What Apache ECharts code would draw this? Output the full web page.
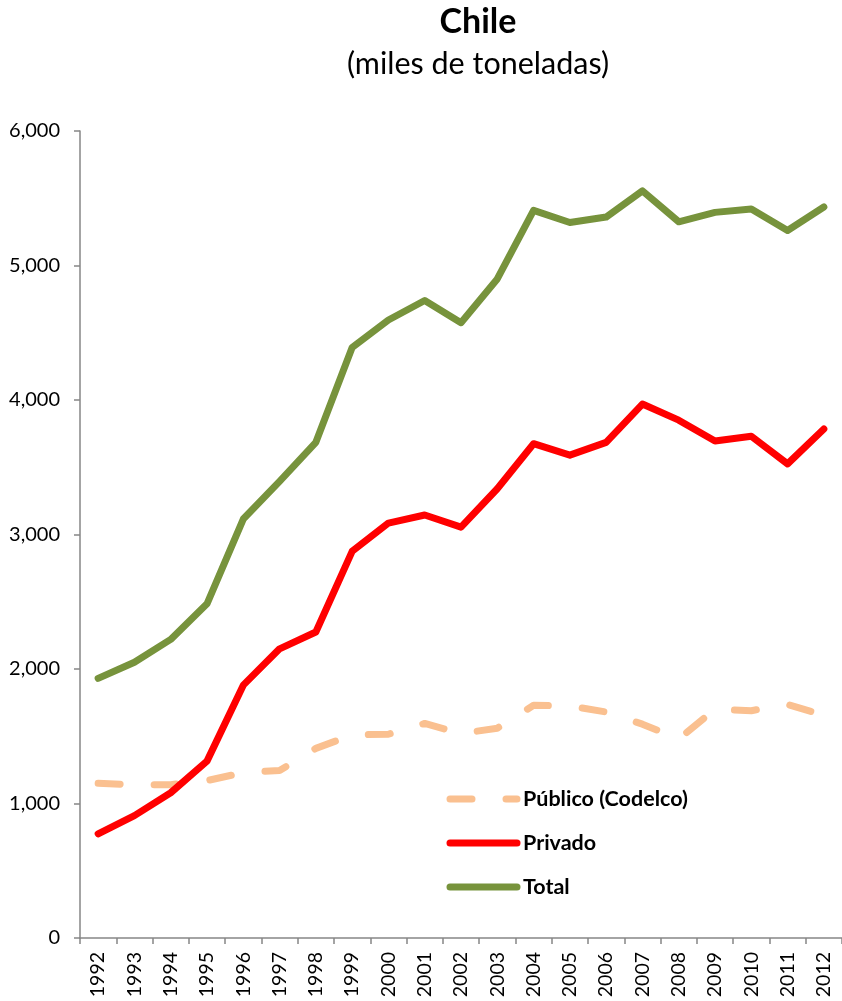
<!DOCTYPE html>
<html>
<head>
<meta charset="utf-8">
<script src="https://cdn.jsdelivr.net/npm/echarts@6/dist/echarts.min.js"></script>
<style>html,body{margin:0;padding:0;background:#fff}#c{width:842px;height:1001px}</style>
</head>
<body>
<div id="c"></div>
<script>
var years = ['1992','1993','1994','1995','1996','1997','1998','1999','2000','2001','2002','2003','2004','2005','2006','2007','2008','2009','2010','2011','2012'];
var publico = [1150,1140,1140,1170,1230,1245,1410,1510,1515,1595,1520,1560,1730,1725,1680,1590,1480,1700,1690,1737,1655];
var privado = [775,910,1080,1315,1880,2150,2275,2875,3085,3145,3055,3340,3675,3590,3685,3970,3850,3695,3730,3525,3785];
var total = [1930,2050,2220,2485,3115,3395,3685,4390,4595,4740,4575,4900,5410,5320,5360,5555,5325,5395,5420,5260,5435];
var yTicks = [0,1000,2000,3000,4000,5000,6000];

var font = 'Lato';
var chart = echarts.init(document.getElementById('c'));
chart.setOption({
  animation: false,
  textStyle: {fontFamily: font},
  title: [
    {text: 'Chile', left: 473, top: 0, textAlign: 'center',
     textStyle: {fontFamily: font, fontSize: 34, fontWeight: 'bold', color: '#000'}},
    {text: '(miles de toneladas)', left: 473, top: 44, textAlign: 'center',
     textStyle: {fontFamily: font, fontSize: 30.5, fontWeight: 'normal', color: '#000'}}
  ],
  legend: {
    orient: 'vertical',
    left: 446.5, top: 788, padding: 0,
    itemWidth: 67, itemHeight: 14, itemGap: 22,
    data: ['Público (Codelco)','Privado','Total'],
    itemStyle: {opacity: 0},
    lineStyle: {width: 7, cap: 'round'},
    textStyle: {fontFamily: font, fontSize: 21.5, fontWeight: 'bold', color: '#000', padding: [0,0,0,1]}
  },
  grid: {left: 80, top: 131, width: 766, height: 807},
  xAxis: {
    type: 'category', data: years, boundaryGap: true,
    axisLine: {lineStyle: {color: '#868686', width: 1.5}},
    axisTick: {show: true, interval: 0, length: 6, lineStyle: {color: '#868686', width: 1.5}},
    axisLabel: {interval: 0, rotate: 90, fontFamily: font, fontSize: 19.5, color: '#000', margin: 14}
  },
  yAxis: {
    type: 'value', min: 0, max: 6000, interval: 1000,
    splitLine: {show: false},
    axisLine: {show: true, lineStyle: {color: '#868686', width: 1.5}},
    axisTick: {show: true, length: 6, lineStyle: {color: '#868686', width: 1.5}},
    axisLabel: {fontFamily: font, fontSize: 20, color: '#000', margin: 20,
      formatter: function(v){ return yTicks.indexOf(v) >= 0 ? v.toLocaleString('en-US') : ''; }}
  },
  series: [
    {name: 'Público (Codelco)', type: 'line', data: publico, symbol: 'none',
     lineStyle: {color: '#FAC090', width: 7, type: [22, 34], cap: 'round', join: 'round'},
     itemStyle: {color: '#FAC090'}},
    {name: 'Privado', type: 'line', data: privado, symbol: 'none',
     lineStyle: {color: '#FF0000', width: 7, cap: 'round', join: 'round'},
     itemStyle: {color: '#FF0000'}},
    {name: 'Total', type: 'line', data: total, symbol: 'none',
     lineStyle: {color: '#77933C', width: 7, cap: 'round', join: 'round'},
     itemStyle: {color: '#77933C'}}
  ]
});
</script>
</body>
</html>
